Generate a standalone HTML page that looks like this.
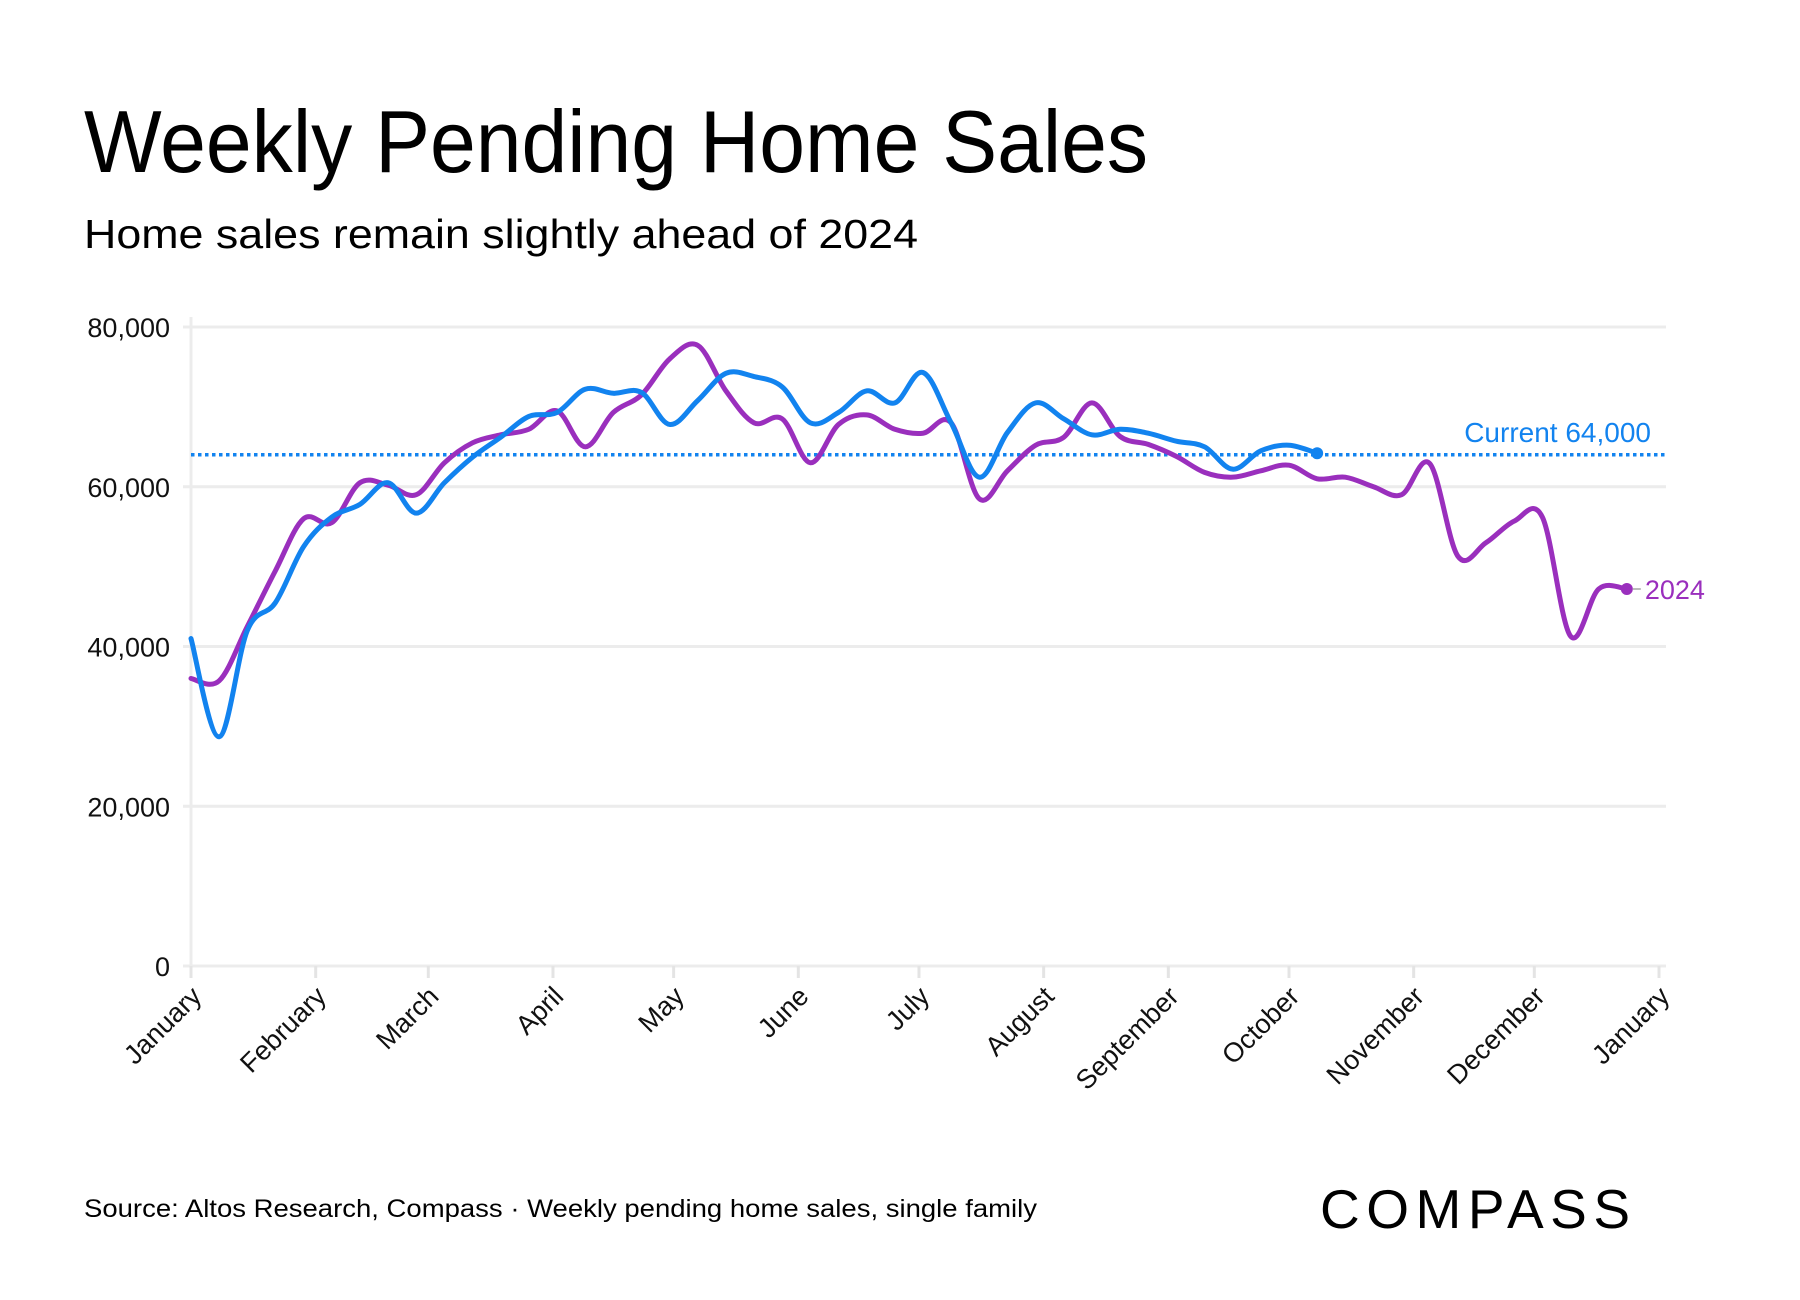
<!DOCTYPE html>
<html><head><meta charset="utf-8"><style>
html,body{margin:0;padding:0;background:#fff;}
svg{display:block;font-family:"Liberation Sans",sans-serif;}
</style></head><body>
<svg id="chart" width="1800" height="1300" viewBox="0 0 1800 1300">
<text x="84" y="172" font-size="88" textLength="1064" lengthAdjust="spacingAndGlyphs" fill="#000">Weekly Pending Home Sales</text>
<text x="84" y="248" font-size="41" textLength="834" lengthAdjust="spacingAndGlyphs" fill="#000">Home sales remain slightly ahead of 2024</text>
<g id="grid"></g>
<g id="yaxis"></g>
<g id="xaxis"></g>
<g id="series"></g>
<text x="84" y="1217" font-size="25" textLength="953" lengthAdjust="spacingAndGlyphs" fill="#000">Source: Altos Research, Compass · Weekly pending home sales, single family</text>
<text x="1320" y="1228" font-size="55" textLength="310" lengthAdjust="spacing" fill="#000">COMPASS</text>
</svg>
<script>
const yTicks = [0, 20000, 40000, 60000, 80000];
const yTickLabels = ["0", "20,000", "40,000", "60,000", "80,000"];
const monthLabels = ["January","February","March","April","May","June","July","August","September","October","November","December","January"];
const monthStartDays = [0,31,59,90,120,151,181,212,243,273,304,334,365];
const weekStepDays = 7;
const sales2024 = [36000,35700,42500,49500,56000,55500,60500,60200,59000,63000,65500,66500,67200,69500,65000,69300,71500,76000,77700,72000,68000,68500,63000,67800,69000,67200,66700,68000,58500,62000,65200,66200,70500,66300,65300,63800,61800,61200,62000,62700,61000,61200,60000,59000,62900,51300,53000,55700,56200,41300,47200,47200];
const sales2025 = [41000,28700,42000,45500,52500,56200,57800,60500,56700,60500,63700,66200,68800,69300,72200,71700,71800,67800,70800,74200,73800,72500,68000,69300,72000,70500,74300,68000,61200,66800,70500,68500,66500,67200,66700,65700,65000,62200,64500,65200,64200];
const currentValue = 64000;
const currentLabel = "Current 64,000";
const seriesLabel2024 = "2024";

const NS = "http://www.w3.org/2000/svg";
const X0 = 191, X1 = 1659, Y0 = 966, Y1 = 327;
const xDay = d => X0 + d / 365 * (X1 - X0);
const yVal = v => Y0 - v / 80000 * (Y0 - Y1);
function mk(tag, attrs, parent, text) {
  const el = document.createElementNS(NS, tag);
  for (const k in attrs) el.setAttribute(k, attrs[k]);
  if (text !== undefined) el.textContent = text;
  parent.appendChild(el);
  return el;
}
const grid = document.getElementById('grid');
const yaxis = document.getElementById('yaxis');
const xaxis = document.getElementById('xaxis');
const series = document.getElementById('series');

yTicks.forEach((t, i) => {
  const l = mk('line', {x1: X0 - 8, x2: 1666, y1: yVal(t), y2: yVal(t), stroke: '#ececec', 'stroke-width': 3}, grid);
  
  
  const tx = mk('text', {x: 170, y: yVal(t) + 10, 'font-size': 27, 'text-anchor': 'end', fill: '#111'}, yaxis, yTickLabels[i]);
  
  
});
const ax = mk('line', {x1: X0, x2: X0, y1: Y1 - 10, y2: Y0 + 12, stroke: '#ececec', 'stroke-width': 3}, grid);



monthLabels.forEach((m, i) => {
  const x = xDay(monthStartDays[i]);
  const tk = mk('line', {x1: x, x2: x, y1: Y0, y2: Y0 + 12, stroke: '#e4e4e4', 'stroke-width': 3}, xaxis);
  
  
  const ax0 = x + 12, ay0 = Y0 + 32;
  const tx = mk('text', {x: ax0, y: ay0, 'font-size': 27, 'text-anchor': 'end', fill: '#111', transform: `rotate(-45 ${ax0} ${ay0})`}, xaxis, m);
  
  
});

function smoothPath(vals) {
  const pts = vals.map((v, i) => [xDay(i * weekStepDays), yVal(v)]);
  let d = `M${pts[0][0]},${pts[0][1]}`;
  for (let i = 0; i < pts.length - 1; i++) {
    const p0 = pts[Math.max(0, i - 1)], p1 = pts[i], p2 = pts[i + 1], p3 = pts[Math.min(pts.length - 1, i + 2)];
    const t = 0.17;
    const c1 = [p1[0] + (p2[0] - p0[0]) * t, p1[1] + (p2[1] - p0[1]) * t];
    const c2 = [p2[0] - (p3[0] - p1[0]) * t, p2[1] - (p3[1] - p1[1]) * t];
    d += ` C${c1[0]},${c1[1]} ${c2[0]},${c2[1]} ${p2[0]},${p2[1]}`;
  }
  return {d, last: pts[pts.length - 1]};
}

const purple = '#9a2fbd', blue = '#1283ef';
const cur = mk('line', {x1: X0, x2: 1666, y1: yVal(currentValue), y2: yVal(currentValue), stroke: blue, 'stroke-width': 3.5, 'stroke-dasharray': '3.5 3.5'}, series);


const cl = mk('text', {x: 1651, y: yVal(currentValue) - 13, 'font-size': 28, 'text-anchor': 'end', fill: blue}, series, currentLabel);



const p24 = smoothPath(sales2024);
const l24 = mk('path', {d: p24.d, fill: 'none', stroke: purple, 'stroke-width': 5, 'stroke-linejoin': 'round', 'stroke-linecap': 'round'}, series);


const d24 = mk('circle', {cx: p24.last[0], cy: p24.last[1], r: 6, fill: purple}, series);


const c24 = mk('line', {x1: p24.last[0] + 6, x2: p24.last[0] + 14, y1: p24.last[1], y2: p24.last[1], stroke: '#bbb', 'stroke-width': 2}, series);


const t24 = mk('text', {x: p24.last[0] + 18, y: p24.last[1] + 10, 'font-size': 27, fill: purple}, series, seriesLabel2024);



const p25 = smoothPath(sales2025);
const l25 = mk('path', {d: p25.d, fill: 'none', stroke: blue, 'stroke-width': 5, 'stroke-linejoin': 'round', 'stroke-linecap': 'round'}, series);


const d25 = mk('circle', {cx: p25.last[0], cy: p25.last[1], r: 6, fill: blue}, series);


</script>
</body></html>
